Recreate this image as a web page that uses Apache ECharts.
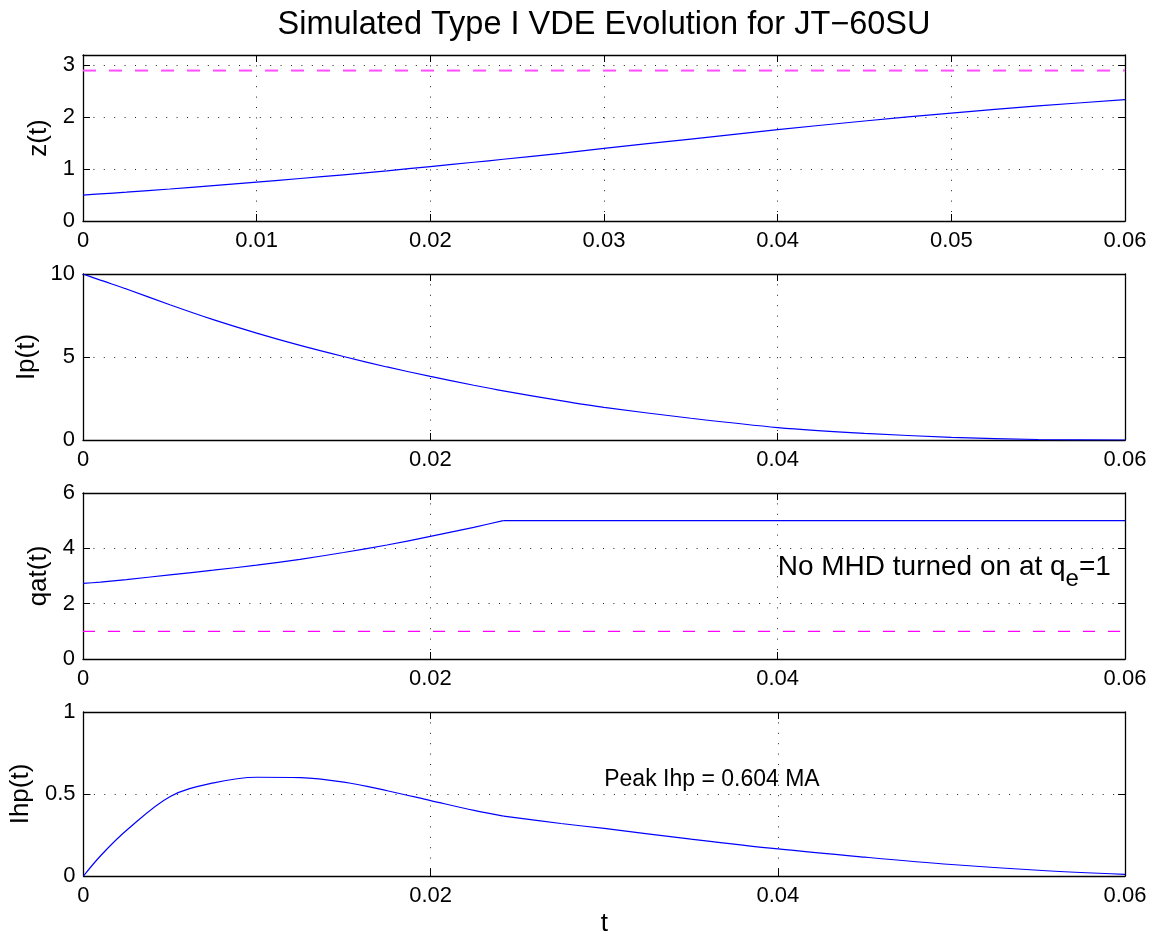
<!DOCTYPE html>
<html>
<head>
<meta charset="utf-8">
<script src="https://cdn.jsdelivr.net/npm/echarts@6/dist/echarts.min.js"></script>
<style>
  html, body { margin: 0; padding: 0; background: #fff; }
  #chart { width: 1153px; height: 938px; }
</style>
</head>
<body>
<div id="chart"></div>
<script>
// ---- data ----
const tValues   = [0, 0.001, 0.0025, 0.005, 0.0075, 0.01, 0.0125, 0.015, 0.0175, 0.02, 0.0225, 0.0242, 0.0275, 0.03, 0.035, 0.04, 0.045, 0.05, 0.055, 0.06];
const zValues   = [0.5, 0.522, 0.556, 0.617, 0.682, 0.75, 0.819, 0.891, 0.968, 1.05, 1.132, 1.19, 1.305, 1.40, 1.58, 1.76, 1.928, 2.08, 2.218, 2.34];
const ipValues  = [10, 9.63, 9.1, 8.15, 7.25, 6.44, 5.7, 5.03, 4.4, 3.83, 3.3, 2.96, 2.37, 1.96, 1.31, 0.75, 0.40, 0.16, 0.03, 0];
const qatValues = [2.73, 2.78, 2.87, 3.04, 3.21, 3.39, 3.6, 3.85, 4.12, 4.43, 4.76, 5.0, 5.0, 5.0, 5.0, 5.0, 5.0, 5.0, 5.0, 5.0];
const ihpValues = [0, 0.125, 0.28, 0.485, 0.568, 0.602, 0.60, 0.572, 0.52, 0.46, 0.40, 0.365, 0.32, 0.29, 0.225, 0.165, 0.115, 0.07, 0.035, 0.01];
const kinkIndex = 11; // t = 0.0242, where qat reaches 5
const tRange = [0, 0.06];
const zLimit = 2.9;
const qLimit = 1;
const yNames = ['z(t)', 'Ip(t)', 'qat(t)', 'Ihp(t)'];
const yMins = [0, 0, 0, 0];
const yMaxs = [3.2, 10, 6, 1];
const yIntervals = [1, 5, 2, 0.5];
const xIntervals = [0.01, 0.02, 0.02, 0.02];
const titleText = 'Simulated Type I VDE Evolution for JT\u221260SU';
const noteQ = ['No MHD turned on at q', 'e', '=1'];
const noteQPos = [[0.04, 3.33]];
const noteIhp = 'Peak Ihp = 0.604 MA';
const noteIhpPos = [[0.030, 0.59]];

const FONT = "'Liberation Sans', Arial, Helvetica, sans-serif";
const tops = [55, 274, 493, 712];
const H = 166;
const nameGaps = [17, 36, 14, 40];

const grids = [], xAxes = [], yAxes = [], series = [];
const seriesData = [zValues, ipValues, qatValues, ihpValues];
const splitAtKink = [false, false, true, true];
const smoothness = [0.25, 0.25, 0.25, 0.35];

const dotted = { color: '#222', width: 1, type: [1, 9.4] };
const tickStyle = { show: true, inside: true, length: 7, lineStyle: { color: '#000', width: 1 } };
const axisLineStyle = { show: true, onZero: false, lineStyle: { color: '#000', width: 1.3 } };

function lineSeries(i, pts, sm) {
  return {
    type: 'line', xAxisIndex: 2 * i, yAxisIndex: 2 * i, data: pts,
    showSymbol: false, smooth: sm, silent: true,
    lineStyle: { color: '#0000ff', width: 1.2 }, itemStyle: { color: '#0000ff' }, z: 3
  };
}
function limitSeries(i, v, color, width, dash) {
  return {
    type: 'line', xAxisIndex: 2 * i, yAxisIndex: 2 * i,
    data: tRange.map(t => [t, v]), showSymbol: false, silent: true,
    lineStyle: { color: color, width: width, type: dash, opacity: 1 },
    itemStyle: { color: color }, z: 2
  };
}

for (let i = 0; i < 4; i++) {
  grids.push({ left: 83, right: 28, top: tops[i], height: H, containLabel: false, show: false });
  const xMain = {
    type: 'value', gridIndex: i, min: 0, max: 0.06, interval: xIntervals[i], position: 'bottom',
    axisLine: axisLineStyle, axisTick: tickStyle,
    axisLabel: { show: true, color: '#000', fontSize: 22, fontFamily: FONT, margin: 9,
      formatter: v => String(+v.toFixed(4)) },
    splitLine: { show: true, lineStyle: dotted }
  };
  if (i === 3) {
    xMain.name = 't';
    xMain.nameLocation = 'middle';
    xMain.nameGap = 35;
    xMain.nameTextStyle = { color: '#000', fontSize: 26, fontFamily: FONT };
  }
  xAxes.push(xMain);
  xAxes.push({
    type: 'value', gridIndex: i, min: 0, max: 0.06, interval: xIntervals[i], position: 'top',
    axisLine: axisLineStyle, axisTick: tickStyle, axisLabel: { show: false }, splitLine: { show: false }
  });
  const yi = yIntervals[i];
  yAxes.push({
    type: 'value', gridIndex: i, min: yMins[i], max: yMaxs[i], interval: yi, position: 'left',
    name: yNames[i], nameLocation: 'middle', nameRotate: 90, nameGap: nameGaps[i],
    nameTextStyle: { color: '#000', fontSize: 26, fontFamily: FONT },
    axisLine: axisLineStyle, axisTick: tickStyle,
    axisLabel: { show: true, color: '#000', fontSize: 22, fontFamily: FONT, margin: 8,
      formatter: v => { const k = v / yi; return Math.abs(k - Math.round(k)) < 1e-6 ? String(+v.toFixed(3)) : ''; } },
    splitLine: { show: true, lineStyle: dotted }
  });
  yAxes.push({
    type: 'value', gridIndex: i, min: yMins[i], max: yMaxs[i], interval: yi, position: 'right',
    axisLine: axisLineStyle, axisTick: tickStyle, axisLabel: { show: false }, splitLine: { show: false }
  });

  const pts = tValues.map((t, k) => [t, seriesData[i][k]]);
  const segs = splitAtKink[i] ? [pts.slice(0, kinkIndex + 1), pts.slice(kinkIndex)] : [pts];
  segs.forEach(seg => series.push(lineSeries(i, seg, smoothness[i])));
}
series.push(limitSeries(0, zLimit, '#ff4dff', 2, [13, 13]));
series.push(limitSeries(2, qLimit, '#ff00ff', 1.2, [12, 13]));

series.push({
  type: 'scatter', xAxisIndex: 4, yAxisIndex: 4, data: noteQPos, symbolSize: 0, silent: true,
  itemStyle: { opacity: 1 },
  label: {
    show: true, position: 'right', distance: 0, opacity: 1,
    formatter: '{a|' + noteQ[0] + '}{s|' + noteQ[1] + '}{a|' + noteQ[2] + '}',
    rich: {
      a: { fontSize: 28, fontFamily: FONT, color: '#000', lineHeight: 50, verticalAlign: 'middle' },
      s: { fontSize: 24, fontFamily: FONT, color: '#000', lineHeight: 50, verticalAlign: 'bottom' }
    }
  }
});
series.push({
  type: 'scatter', xAxisIndex: 6, yAxisIndex: 6, data: noteIhpPos, symbolSize: 0, silent: true,
  itemStyle: { opacity: 1 },
  label: { show: true, position: 'right', distance: 0, formatter: noteIhp, opacity: 1,
    fontSize: 23, fontFamily: FONT, color: '#000' }
});

const chart = echarts.init(document.getElementById('chart'), null, { renderer: 'canvas' });
chart.setOption({
  animation: false,
  backgroundColor: '#fff',
  title: { text: titleText, left: 599, top: 4, textAlign: 'center',
    textStyle: { fontSize: 32.5, fontWeight: 'normal', color: '#000', fontFamily: FONT } },
  grid: grids, xAxis: xAxes, yAxis: yAxes, series: series
});
</script>
</body>
</html>
